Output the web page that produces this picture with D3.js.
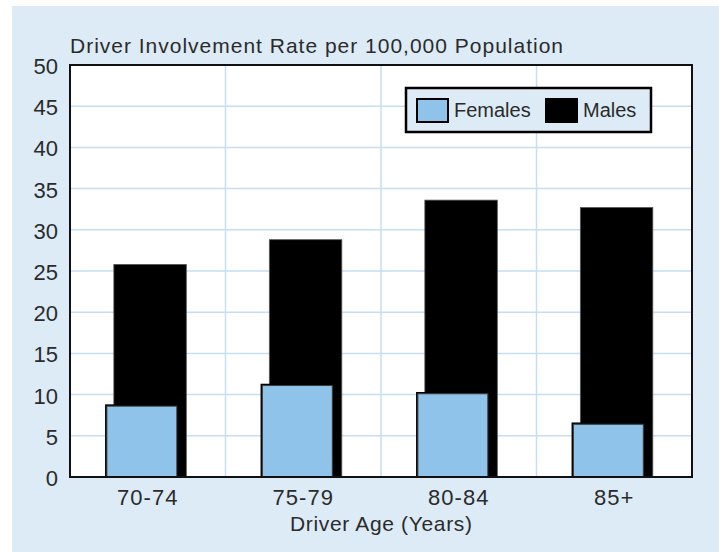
<!DOCTYPE html>
<html>
<head>
<meta charset="utf-8">
<script src="https://cdn.jsdelivr.net/npm/d3@7"></script>
<style>
  body { margin: 0; background: #fff; }
  text { font-family: "Liberation Sans", Arial, sans-serif; fill: #2b2b2b; }
</style>
</head>
<body>
<div id="graph"></div>
<script>
var width = 719, height = 552

var ages = ['70-74', '75-79', '80-84', '85+']
var females = [8.6, 11.1, 10.1, 6.4]
var males = [25.8, 28.8, 33.6, 32.7]
var yTicks = [0, 5, 10, 15, 20, 25, 30, 35, 40, 45, 50]
var series = ['Females', 'Males']

var panelFill = '#dcebf6', femaleFill = '#8fc3e9', gridColor = '#c6def3'

var m = {left: 70, top: 65, right: 692, bottom: 477}

var svg = d3.select('#graph').append('svg')
    .attr('width', width).attr('height', height)

svg.append('rect')
    .attr('x', 12).attr('y', 6)
    .attr('width', width - 12).attr('height', height - 6)
    .attr('fill', panelFill)

var x = d3.scaleBand().domain(ages).range([m.left, m.right])
var y = d3.scaleLinear().domain([0, 50]).range([m.bottom, m.top])

// plot background
svg.append('rect')
    .attr('x', m.left).attr('y', m.top)
    .attr('width', m.right - m.left).attr('height', m.bottom - m.top)
    .attr('fill', '#fff')

// grid
svg.append('g').selectAll('line').data(yTicks.slice(1, -1)).enter().append('line')
    .attr('x1', m.left).attr('x2', m.right)
    .attr('y1', d => y(d)).attr('y2', d => y(d))
    .attr('stroke', gridColor).attr('stroke-width', 1.5)

svg.append('g').selectAll('line').data(ages.slice(1)).enter().append('line')
    .attr('x1', d => x(d)).attr('x2', d => x(d))
    .attr('y1', m.top).attr('y2', m.bottom)
    .attr('stroke', gridColor).attr('stroke-width', 1.5)

// bars: males behind, females in front shifted left
var bw = x.bandwidth()
var maleW = bw * 0.466, femaleW = bw * 0.45
var maleX = d => x(d) + bw / 2 - bw * 0.218
var femaleX = d => x(d) + bw / 2 - bw * 0.263

svg.append('g').selectAll('rect').data(ages).enter().append('rect')
    .attr('x', maleX)
    .attr('y', (d, i) => y(males[i]))
    .attr('width', maleW)
    .attr('height', (d, i) => y(0) - y(males[i]))
    .attr('fill', '#000')
    .attr('stroke', '#555').attr('stroke-width', 0.8)

var fg = svg.append('g')
fg.selectAll('rect.sh').data(ages).enter().append('rect')
    .attr('class', 'sh')
    .attr('x', d => femaleX(d) - 1.8)
    .attr('y', (d, i) => y(females[i]) - 1.8)
    .attr('width', femaleW)
    .attr('height', (d, i) => y(0) - y(females[i]) + 1.8)
    .attr('fill', '#000')

fg.selectAll('rect.f').data(ages).enter().append('rect')
    .attr('class', 'f')
    .attr('x', femaleX)
    .attr('y', (d, i) => y(females[i]))
    .attr('width', femaleW)
    .attr('height', (d, i) => y(0) - y(females[i]))
    .attr('fill', femaleFill)
    .attr('stroke', '#3a3a3a').attr('stroke-width', 1)

// frame
svg.append('rect')
    .attr('x', m.left).attr('y', m.top)
    .attr('width', m.right - m.left).attr('height', m.bottom - m.top)
    .attr('fill', 'none').attr('stroke', '#111').attr('stroke-width', 2)

// y tick labels
svg.append('g').selectAll('text').data(yTicks).enter().append('text')
    .attr('x', 58).attr('y', d => y(d))
    .attr('dy', '0.41em')
    .attr('text-anchor', 'end')
    .attr('font-size', 22)
    .text(d => d)

// x tick labels
svg.append('g').selectAll('text').data(ages).enter().append('text')
    .attr('x', d => x(d) + bw / 2)
    .attr('y', 505)
    .attr('text-anchor', 'middle')
    .attr('font-size', 22)
    .attr('letter-spacing', 1)
    .text(d => d)

svg.append('text')
    .attr('x', 290).attr('y', 531)
    .attr('font-size', 21)
    .attr('textLength', 182).attr('lengthAdjust', 'spacing')
    .text('Driver Age (Years)')

svg.append('text')
    .attr('x', 70).attr('y', 53)
    .attr('font-size', 21)
    .attr('textLength', 493).attr('lengthAdjust', 'spacing')
    .text('Driver Involvement Rate per 100,000 Population')

// legend
var lg = svg.append('g')
lg.append('rect')
    .attr('x', 406).attr('y', 88)
    .attr('width', 245).attr('height', 44)
    .attr('fill', panelFill).attr('stroke', '#000').attr('stroke-width', 2.5)

var swatchX = [417, 546], labelX = [454, 583]
lg.selectAll('rect.sw').data(series).enter().append('rect')
    .attr('class', 'sw')
    .attr('x', (d, i) => swatchX[i]).attr('y', 99)
    .attr('width', 31).attr('height', 23)
    .attr('fill', (d, i) => i ? '#000' : femaleFill)
    .attr('stroke', '#000').attr('stroke-width', 2)

lg.selectAll('text').data(series).enter().append('text')
    .attr('x', (d, i) => labelX[i]).attr('y', 117)
    .attr('font-size', 20)
    .text(d => d)
</script>
</body>
</html>
